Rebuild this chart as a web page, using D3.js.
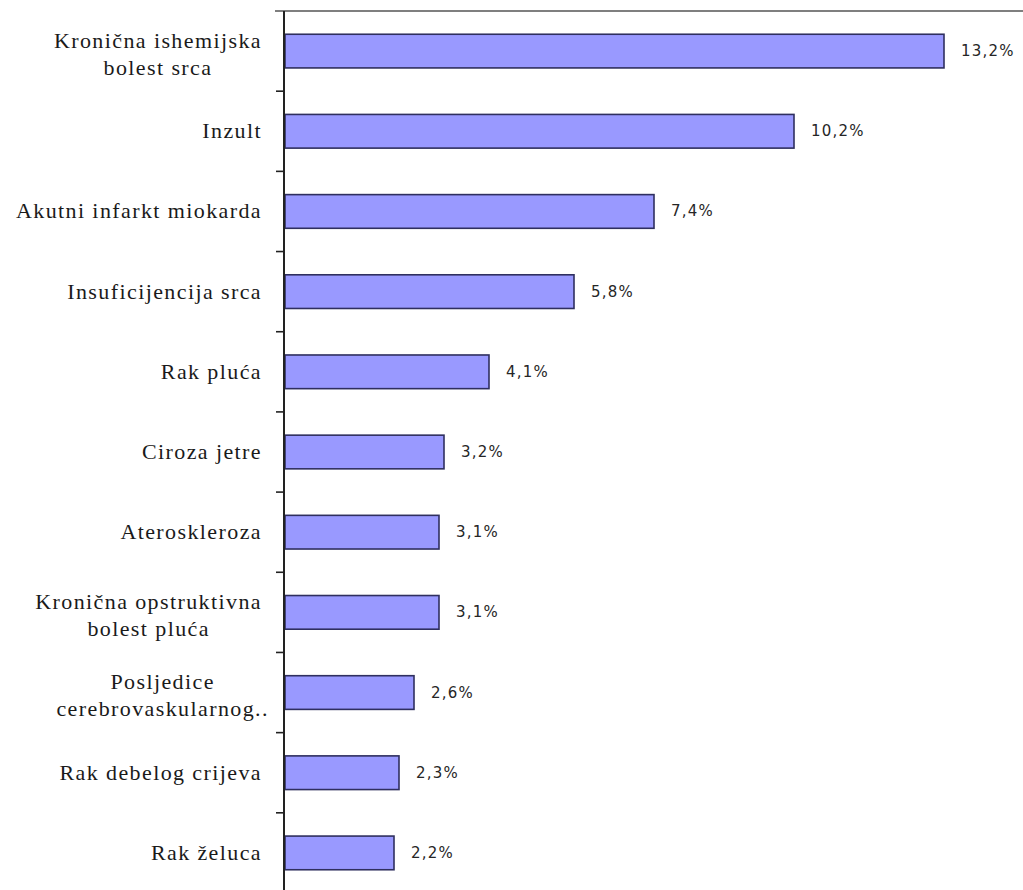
<!DOCTYPE html>
<html>
<head>
<meta charset="utf-8">
<script src="https://cdn.jsdelivr.net/npm/d3@7"></script>
<style>
  html, body { margin: 0; padding: 0; background: #ffffff; }
  svg { display: block; }
</style>
</head>
<body>
<script>
// Leading causes of death, share of all deaths (%)
const categories = [
  "Kronična ishemijska\nbolest srca",
  "Inzult",
  "Akutni infarkt miokarda",
  "Insuficijencija srca",
  "Rak pluća",
  "Ciroza jetre",
  "Ateroskleroza",
  "Kronična opstruktivna\nbolest pluća",
  "Posljedice\ncerebrovaskularnog..",
  "Rak debelog crijeva",
  "Rak želuca"
];
const values = [13.2, 10.2, 7.4, 5.8, 4.1, 3.2, 3.1, 3.1, 2.6, 2.3, 2.2];
const xDomain = [0, 14];

const width = 1023, height = 890;
const axisX = 284, plotTop = 11, plotBottom = 893, plotRight = 984;
const labelRight = 262;

const svg = d3.select("body").append("svg")
  .attr("width", width)
  .attr("height", height);

const x = d3.scaleLinear().domain(xDomain).range([axisX, plotRight]);
const y = d3.scaleBand()
  .domain(categories)
  .range([plotTop, plotBottom])
  .paddingInner(0.58)
  .paddingOuter(0.29);

const step = y.step();
const fmt = v => d3.format(".1f")(v).replace(".", ",") + "%";

// top border of the plot area
svg.append("line")
  .attr("x1", axisX - 9).attr("x2", width)
  .attr("y1", plotTop).attr("y2", plotTop)
  .attr("stroke", "#555").attr("stroke-width", 1.5);

// bars
svg.append("g").selectAll("rect")
  .data(categories)
  .join("rect")
  .attr("x", x(0) + 1)
  .attr("y", d => y(d))
  .attr("width", (d, i) => x(values[i]) - x(0) - 1)
  .attr("height", y.bandwidth())
  .attr("fill", "#9999ff")
  .attr("stroke", "#2f2f5f")
  .attr("stroke-width", 1.6);

// category axis with ticks between categories
const axisG = svg.append("g");
axisG.append("line")
  .attr("x1", axisX).attr("x2", axisX)
  .attr("y1", plotTop).attr("y2", plotBottom)
  .attr("stroke", "#222").attr("stroke-width", 2);
axisG.selectAll("line.tick")
  .data(d3.range(1, categories.length + 1))
  .join("line")
  .attr("class", "tick")
  .attr("x1", axisX - 8).attr("x2", axisX)
  .attr("y1", k => plotTop + k * step)
  .attr("y2", k => plotTop + k * step)
  .attr("stroke", "#222").attr("stroke-width", 1.6);

// category labels (multi-line labels centred as a block, right-aligned to the axis)
const lineH = 27;
const labelG = svg.append("g")
  .attr("font-family", "'Liberation Serif', 'Times New Roman', serif")
  .attr("font-size", 22)
  .attr("letter-spacing", "1.4px")
  .attr("fill", "#1a1a1a");

categories.forEach(cat => {
  const lines = cat.split("\n");
  const cy = y(cat) + y.bandwidth() / 2;
  const n = lines.length;
  const t = labelG.append("text");
  if (n === 1) {
    t.attr("text-anchor", "end")
      .attr("x", labelRight)
      .attr("y", cy + 7)
      .text(lines[0]);
  } else {
    // measure the widest line (ignoring a trailing ellipsis)
    const probe = labelG.append("text").attr("visibility", "hidden");
    let w = 0;
    lines.forEach(l => {
      probe.text(l.replace(/\.+$/, ""));
      w = Math.max(w, probe.node().getComputedTextLength());
    });
    probe.remove();
    const cx = labelRight - w / 2;
    t.attr("text-anchor", "middle");
    lines.forEach((l, i) => {
      t.append("tspan")
        .attr("x", cx)
        .attr("y", cy + 10 + (i - (n - 1) / 2) * lineH)
        .text(l);
    });
  }
});

// value labels
svg.append("g")
  .attr("font-family", "'DejaVu Sans', Verdana, sans-serif")
  .attr("font-size", 15)
  .attr("letter-spacing", "1.2px")
  .attr("fill", "#262626")
  .selectAll("text")
  .data(categories)
  .join("text")
  .attr("x", (d, i) => x(values[i]) + 17)
  .attr("y", d => y(d) + y.bandwidth() / 2 + 5)
  .text((d, i) => fmt(values[i]));
</script>
</body>
</html>
